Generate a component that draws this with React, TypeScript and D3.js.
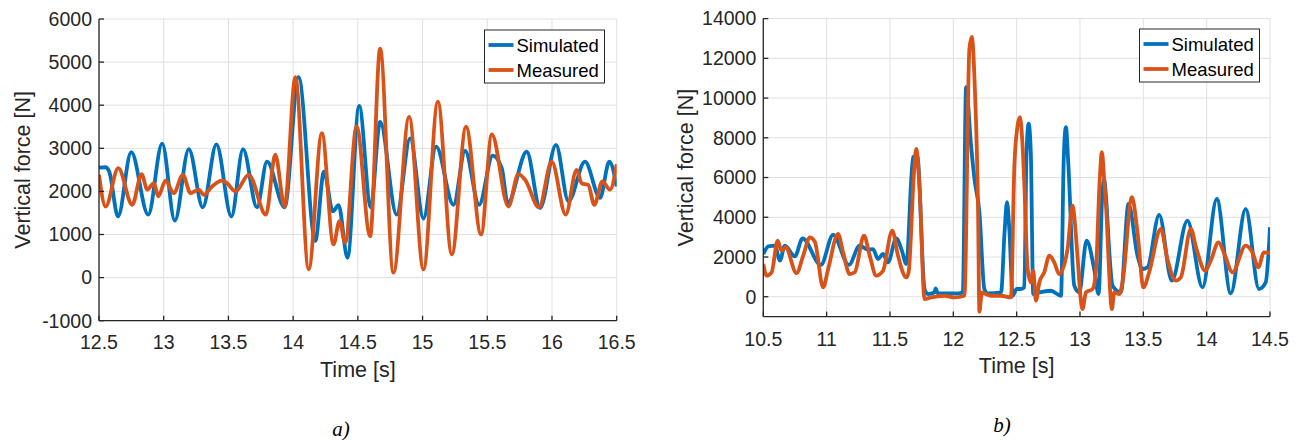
import React from 'react'
import * as d3 from 'd3'

// panel a) values, [time s, force N]
const simulatedA: [number, number][] = [
  [12.5, 2550], [12.55, 2560], [12.58, 2450], [12.647, 1420], [12.749, 2910], [12.88, 1460],
  [12.988, 3110], [13.086, 1320], [13.194, 2980], [13.302, 1630], [13.407, 3090], [13.523, 1420],
  [13.613, 2980], [13.721, 1630], [13.798, 2690], [13.934, 1630], [14.042, 4650], [14.171, 850],
  [14.238, 2460], [14.307, 1540], [14.351, 1680], [14.42, 460], [14.51, 3985], [14.6, 1630],
  [14.672, 3615], [14.8, 1460], [14.904, 3230], [15.007, 1370], [15.105, 3040], [15.239, 1690],
  [15.329, 2940], [15.437, 1690], [15.542, 2830], [15.612, 2540], [15.658, 1730], [15.805, 2920],
  [15.908, 1615], [16.031, 3080], [16.127, 1770], [16.255, 2690], [16.371, 1850], [16.443, 2690],
  [16.5, 2115],
]

const measuredA: [number, number][] = [
  [12.5, 2385], [12.551, 1650], [12.649, 2540], [12.757, 1690], [12.829, 2400], [12.873, 2040],
  [12.924, 2190], [12.958, 1885], [13.014, 2250], [13.078, 1960], [13.148, 2385], [13.207, 1960],
  [13.271, 2040], [13.31, 1920], [13.374, 2115], [13.451, 2250], [13.49, 2190], [13.554, 2000],
  [13.657, 2385], [13.79, 1460], [13.862, 2850], [13.934, 1650], [14.017, 4650], [14.12, 190],
  [14.222, 3350], [14.312, 770], [14.358, 1310], [14.402, 810], [14.49, 3510], [14.595, 960],
  [14.672, 5310], [14.775, 115], [14.896, 3730], [15.007, 190], [15.118, 4080], [15.226, 540],
  [15.336, 3500], [15.452, 1000], [15.535, 3320], [15.663, 1650], [15.74, 2400], [15.792, 2270],
  [15.9, 1630], [15.998, 2690], [16.106, 1460], [16.19, 2500], [16.229, 2190], [16.28, 2150],
  [16.327, 1690], [16.389, 2230], [16.448, 2040], [16.5, 2630],
]

// panel b) values
const simulatedB: [number, number][] = [
  [10.5, 2150], [10.54, 2540], [10.592, 2570], [10.631, 1815], [10.67, 2570], [10.749, 2030],
  [10.81, 2940], [10.954, 1600], [11.051, 3110], [11.175, 1600], [11.261, 2570], [11.327, 2370],
  [11.366, 2400], [11.406, 1900], [11.445, 2150], [11.484, 1730], [11.55, 2940], [11.594, 2320],
  [11.629, 1650], [11.682, 7025], [11.715, 7110], [11.773, 390], [11.799, 135], [11.852, 220],
  [11.86, 420], [11.877, 185], [12.035, 170], [12.075, 220], [12.101, 10555], [12.14, 7610],
  [12.167, 5930], [12.206, 4250], [12.245, 390], [12.27, 170], [12.377, 220], [12.405, 3300],
  [12.424, 4760], [12.443, 3300], [12.469, 50], [12.5, 390], [12.534, 390], [12.56, 470],
  [12.578, 7200], [12.595, 8710], [12.612, 7200], [12.631, 135], [12.679, 220], [12.77, 300],
  [12.85, 50], [12.872, 7000], [12.889, 8540], [12.907, 6800], [12.955, 555], [12.994, 220],
  [13.052, 2820], [13.112, 1395], [13.147, 135], [13.175, 5000], [13.191, 5900], [13.208, 4800],
  [13.23, 2400], [13.257, 555], [13.323, 220], [13.383, 4670], [13.454, 2070], [13.493, 1395],
  [13.533, 1480], [13.625, 4120], [13.725, 810], [13.848, 3830], [13.967, 470], [14.08, 4920],
  [14.19, 170], [14.308, 4420], [14.413, 390], [14.466, 720], [14.5, 3500],
]

const measuredB: [number, number][] = [
  [10.5, 1650], [10.526, 1060], [10.566, 1230], [10.613, 2820], [10.644, 2320], [10.676, 2490],
  [10.762, 1190], [10.815, 2070], [10.867, 2990], [10.907, 2770], [10.972, 470], [11.012, 1395],
  [11.09, 3160], [11.13, 2235], [11.182, 1140], [11.222, 1230], [11.295, 3080], [11.34, 2070],
  [11.392, 1060], [11.445, 1310], [11.518, 3330], [11.563, 2070], [11.629, 975], [11.647, 1230],
  [11.69, 6300], [11.707, 7445], [11.734, 5430], [11.773, -120], [11.825, -30], [11.93, 50],
  [12.009, -30], [12.088, 50], [12.127, 12490], [12.146, 13075], [12.17, 10500], [12.195, 4500],
  [12.206, -750], [12.225, 200], [12.298, 50], [12.377, 50], [12.455, -30], [12.482, 6600],
  [12.505, 8500], [12.526, 9040], [12.545, 7800], [12.56, 5765], [12.587, 1395], [12.613, 720],
  [12.631, 1310], [12.652, -200], [12.679, 720], [12.718, 1230], [12.758, 2070], [12.797, 1730],
  [12.836, 1140], [12.902, 2400], [12.925, 3900], [12.942, 4590], [12.96, 3700], [12.98, 2070],
  [13.007, -200], [13.02, -620], [13.047, 220], [13.1, 390], [13.125, 1230], [13.155, 5800],
  [13.173, 7280], [13.19, 6000], [13.21, 4080], [13.23, 1230], [13.252, -620], [13.27, 220],
  [13.31, 135], [13.336, 720], [13.41, 5010], [13.454, 3240], [13.501, 470], [13.546, 1230],
  [13.638, 3410], [13.69, 1900], [13.756, 810], [13.796, 975], [13.875, 3410], [13.92, 2400],
  [13.988, 1310], [14.032, 1815], [14.093, 2740], [14.145, 2070], [14.203, 1230], [14.308, 2570],
  [14.361, 2235], [14.408, 1480], [14.452, 2235], [14.5, 2200],
]

const xTicksA = [12.5, 13, 13.5, 14, 14.5, 15, 15.5, 16, 16.5]
const yTicksA = [-1000, 0, 1000, 2000, 3000, 4000, 5000, 6000]
const xTicksB = [10.5, 11, 11.5, 12, 12.5, 13, 13.5, 14, 14.5]
const yTicksB = [0, 2000, 4000, 6000, 8000, 10000, 12000, 14000]
const seriesNames = ['Simulated', 'Measured']

const BLUE = '#0072BD'
const ORANGE = '#D95319'
const AXIS = '#262626'
const GRID = '#e0e0e0'
const FONT = 'Arial, "Liberation Sans", Helvetica, sans-serif'

function Panel(props) {
  const { id, x0, x1, y0, y1, xDomain, yDomain, xTicks, yTicks, sim, meas,
    legendX, legendY, tickY, titleY, ylabelX, caption, captionX, captionY } = props

  const x = d3.scaleLinear().domain(xDomain).range([x0, x1])
  const y = d3.scaleLinear().domain(yDomain).range([y1, y0])
  const line = d3.line<[number, number]>()
    .x(d => x(d[0]))
    .y(d => y(d[1]))
    .curve(d3.curveMonotoneX)

  const midX = (x0 + x1) / 2
  const midY = (y0 + y1) / 2

  return (
    <g>
      <defs>
        <clipPath id={`clip-${id}`}>
          <rect x={x0} y={y0 - 2} width={x1 - x0} height={y1 - y0 + 2} />
        </clipPath>
      </defs>

      {/* grid */}
      {xTicks.map(t => (
        <line key={'gx' + t} x1={x(t)} x2={x(t)} y1={y0} y2={y1} stroke={GRID} strokeWidth={1} />
      ))}
      {yTicks.map(t => (
        <line key={'gy' + t} x1={x0} x2={x1} y1={y(t)} y2={y(t)} stroke={GRID} strokeWidth={1} />
      ))}

      <g clipPath={`url(#clip-${id})`}>
        <path d={line(sim)} fill="none" stroke={BLUE} strokeWidth={3.8} strokeLinejoin="round" />
        <path d={line(meas)} fill="none" stroke={ORANGE} strokeWidth={3.8} strokeLinejoin="round" />
      </g>

      {/* axes */}
      <line x1={x0} x2={x0} y1={y0} y2={y1} stroke={AXIS} strokeWidth={1.3} />
      <line x1={x0} x2={x1} y1={y1} y2={y1} stroke={AXIS} strokeWidth={1.3} />
      {xTicks.map(t => (
        <g key={'tx' + t}>
          <line x1={x(t)} x2={x(t)} y1={y1} y2={y1 - 5} stroke={AXIS} strokeWidth={1.3} />
          <text x={x(t)} y={tickY} textAnchor="middle" fontSize={19.5} fill={AXIS} fontFamily={FONT}>
            {String(t)}
          </text>
        </g>
      ))}
      {yTicks.map(t => (
        <g key={'ty' + t}>
          <line x1={x0} x2={x0 + 5} y1={y(t)} y2={y(t)} stroke={AXIS} strokeWidth={1.3} />
          <text x={x0 - 7} y={y(t)} dy="0.35em" textAnchor="end" fontSize={19.5} fill={AXIS} fontFamily={FONT}>
            {String(t)}
          </text>
        </g>
      ))}

      <text x={midX} y={titleY} textAnchor="middle" fontSize={21.5} fill={AXIS} fontFamily={FONT}>Time [s]</text>
      <text transform={`translate(${ylabelX},${midY}) rotate(-90)`} dy="0.35em" textAnchor="middle"
        fontSize={21.5} fill={AXIS} fontFamily={FONT}>Vertical force [N]</text>

      {/* legend */}
      <rect x={legendX} y={legendY} width={120} height={53} fill="#fff" stroke={AXIS} strokeWidth={1} />
      {seriesNames.map((name, i) => (
        <g key={name}>
          <line x1={legendX + 4} x2={legendX + 29} y1={legendY + 15 + i * 25} y2={legendY + 15 + i * 25}
            stroke={i === 0 ? BLUE : ORANGE} strokeWidth={3.8} />
          <text x={legendX + 32} y={legendY + 15 + i * 25} dy="0.36em" fontSize={18.5} fill="#000" fontFamily={FONT}>
            {name}
          </text>
        </g>
      ))}

      <text x={captionX} y={captionY} textAnchor="middle" fontSize={21} fontStyle="italic"
        fontFamily='"Liberation Serif", "Times New Roman", serif' fill="#000">{caption}</text>
    </g>
  )
}

export default function App() {
  return (
    <svg width={1303} height={440} style={{ position: 'absolute', left: 0, top: 0, background: '#fff' }}>
      <Panel id="a" x0={99} x1={616.7} y0={19} y1={320.7}
        xDomain={[12.5, 16.5]} yDomain={[-1000, 6000]} xTicks={xTicksA} yTicks={yTicksA}
        sim={simulatedA} meas={measuredA} legendX={484.5} legendY={30}
        tickY={349} titleY={377} ylabelX={22} caption="a)" captionX={341} captionY={436} />
      <Panel id="b" x0={763.3} x1={1270} y0={18.6} y1={316.6}
        xDomain={[10.5, 14.5]} yDomain={[-1000, 14000]} xTicks={xTicksB} yTicks={yTicksB}
        sim={simulatedB} meas={measuredB} legendX={1139.5} legendY={29}
        tickY={346} titleY={373} ylabelX={685} caption="b)" captionX={1002} captionY={432} />
    </svg>
  )
}
